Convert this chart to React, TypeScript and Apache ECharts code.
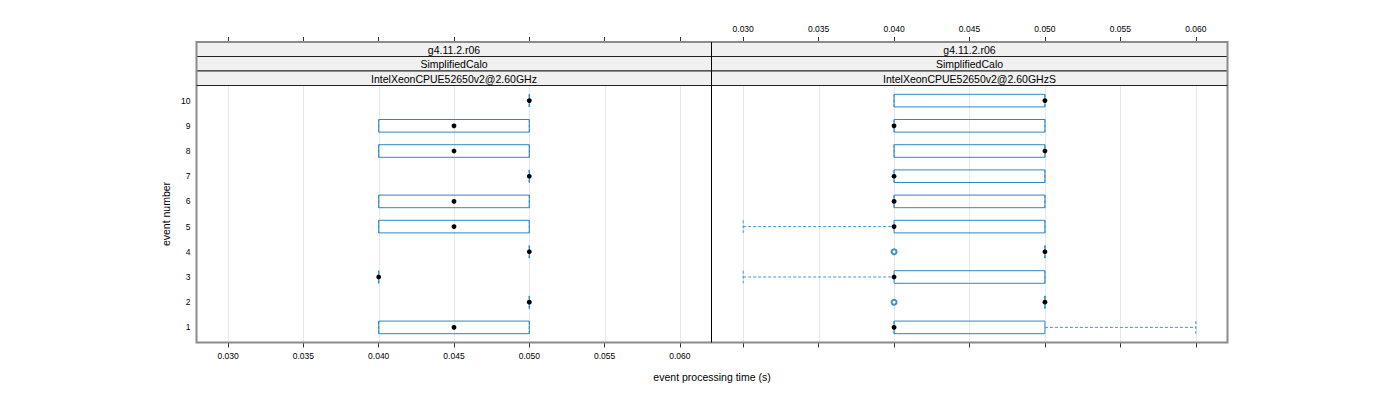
import React, { useEffect, useRef } from "react";
import * as echarts from "echarts";

// ---- data ----
const events = [1, 2, 3, 4, 5, 6, 7, 8, 9, 10];
const xTickValues = [0.03, 0.035, 0.04, 0.045, 0.05, 0.055, 0.06];
const xTickLabels = ["0.030", "0.035", "0.040", "0.045", "0.050", "0.055", "0.060"];
const yTickValues = [1, 2, 3, 4, 5, 6, 7, 8, 9, 10];

const stripLeft = ["g4.11.2.r06", "SimplifiedCalo", "IntelXeonCPUE52650v2@2.60GHz"];
const stripRight = ["g4.11.2.r06", "SimplifiedCalo", "IntelXeonCPUE52650v2@2.60GHzS"];

// left panel: per event 1..10
const leftLo = [0.04, 0.05, 0.04, 0.05, 0.04, 0.04, 0.05, 0.04, 0.04, 0.05];
const leftQ1 = [0.04, 0.05, 0.04, 0.05, 0.04, 0.04, 0.05, 0.04, 0.04, 0.05];
const leftMed = [0.045, 0.05, 0.04, 0.05, 0.045, 0.045, 0.05, 0.045, 0.045, 0.05];
const leftQ3 = [0.05, 0.05, 0.04, 0.05, 0.05, 0.05, 0.05, 0.05, 0.05, 0.05];
const leftHi = [0.05, 0.05, 0.04, 0.05, 0.05, 0.05, 0.05, 0.05, 0.05, 0.05];
const leftOutliers: number[][] = [];

// right panel
const rightLo = [0.04, 0.05, 0.03, 0.05, 0.03, 0.04, 0.04, 0.04, 0.04, 0.04];
const rightQ1 = [0.04, 0.05, 0.04, 0.05, 0.04, 0.04, 0.04, 0.04, 0.04, 0.04];
const rightMed = [0.04, 0.05, 0.04, 0.05, 0.04, 0.04, 0.04, 0.05, 0.04, 0.05];
const rightQ3 = [0.05, 0.05, 0.05, 0.05, 0.05, 0.05, 0.05, 0.05, 0.05, 0.05];
const rightHi = [0.06, 0.05, 0.05, 0.05, 0.05, 0.05, 0.05, 0.05, 0.05, 0.05];
const rightOutliers = [
  [0.04, 2],
  [0.04, 4],
];

const xTitle = "event processing time (s)";
const yTitle = "event number";

// ---- layout / style ----
const FONT = "'Liberation Sans', Arial, Helvetica, sans-serif";
const X_MIN = 0.0279;
const X_MAX = 0.0621;
const Y_MIN = 0.4;
const Y_MAX = 10.6;
const PANEL_TOP = 85.5;
const PANEL_H = 257;
const STRIP_H = 14.5;
const L_LEFT = 196.5;
const L_W = 515;
const R_LEFT = 711.5;
const R_W = 516;
const BOX_COL = "#2b88c6";
const WHISK_COL = "#3f98d2";
const OUT_COL = "#0b78c0";

function buildRows(lo: number[], q1: number[], med: number[], q3: number[], hi: number[]) {
  return events.map((e, i) => [e, lo[i], q1[i], med[i], q3[i], hi[i]]);
}

function renderBox(params: any, api: any) {
  const ev = api.value(0);
  const lo = api.value(1);
  const q1 = api.value(2);
  const med = api.value(3);
  const q3 = api.value(4);
  const hi = api.value(5);
  const yc = api.coord([q1, ev])[1];
  const h = Math.abs(api.size([0, 0.5])[1]);
  const half = h / 2;
  const px = (v: number) => api.coord([v, ev])[0];
  const children: any[] = [];
  const dashStyle = { stroke: WHISK_COL, lineWidth: 1, lineDash: [3, 2], fill: null };
  if (lo < q1) {
    children.push({ type: "line", shape: { x1: px(lo), y1: yc, x2: px(q1), y2: yc }, style: dashStyle });
  }
  if (hi > q3) {
    children.push({ type: "line", shape: { x1: px(q3), y1: yc, x2: px(hi), y2: yc }, style: dashStyle });
  }
  children.push({ type: "line", shape: { x1: px(lo), y1: yc - half, x2: px(lo), y2: yc + half }, style: dashStyle });
  children.push({ type: "line", shape: { x1: px(hi), y1: yc - half, x2: px(hi), y2: yc + half }, style: dashStyle });
  if (q3 > q1) {
    children.push({
      type: "rect",
      shape: { x: px(q1), y: yc - half, width: px(q3) - px(q1), height: h },
      style: { stroke: BOX_COL, lineWidth: 1, fill: null },
    });
  } else {
    children.push({
      type: "line",
      shape: { x1: px(q1), y1: yc - half, x2: px(q1), y2: yc + half },
      style: { stroke: BOX_COL, lineWidth: 1 },
    });
  }
  children.push({
    type: "circle",
    shape: { cx: px(med), cy: yc, r: 2.4 },
    style: { fill: "#000", stroke: null },
  });
  return { type: "group", children };
}

function renderGridLine(params: any, api: any) {
  const x = Math.round(api.coord([api.value(0), Y_MIN])[0]) + 0.5;
  const cs = params.coordSys;
  return {
    type: "line",
    shape: { x1: x, y1: cs.y, x2: x, y2: cs.y + cs.height },
    style: { stroke: "#e8e8e8", lineWidth: 1 },
  };
}

function xAxisDef(gridIndex: number, position: "top" | "bottom", showLabels: boolean) {
  return {
    type: "value",
    gridIndex,
    position,
    offset: position === "top" ? STRIP_H * 3 : 0,
    min: X_MIN,
    max: X_MAX,
    axisLine: { show: false },
    splitLine: { show: false },
    axisTick: {
      show: true,
      customValues: xTickValues,
      length: 5,
      lineStyle: { color: "#333", width: 1 },
    },
    axisLabel: {
      show: showLabels,
      customValues: xTickValues,
      formatter: (v: number) => {
        const i = xTickValues.findIndex((t) => Math.abs(t - v) < 1e-9);
        return i >= 0 ? xTickLabels[i] : "";
      },
      fontFamily: FONT,
      fontSize: 8.5,
      color: "#000",
      margin: 9,
    },
  };
}

function yAxisDef(gridIndex: number, showLabels: boolean) {
  return {
    type: "value",
    gridIndex,
    min: Y_MIN,
    max: Y_MAX,
    axisLine: { show: false },
    splitLine: { show: false },
    axisTick: { show: false },
    axisLabel: {
      show: showLabels,
      customValues: yTickValues,
      fontFamily: FONT,
      fontSize: 8.5,
      color: "#000",
      margin: 6,
    },
  };
}

function strips(left: number, width: number, labels: string[]) {
  const els: any[] = [];
  labels.forEach((lab, i) => {
    const top = PANEL_TOP - STRIP_H * (3 - i);
    els.push({
      type: "rect",
      shape: { x: left, y: top, width, height: STRIP_H },
      style: { fill: "#f0f0f0", stroke: "#222", lineWidth: 1 },
      z: 5,
    });
    els.push({
      type: "text",
      x: left + width / 2,
      y: top + STRIP_H / 2 + 0.5,
      style: {
        text: lab,
        fontFamily: FONT,
        fontSize: 10.5,
        fill: "#000",
        align: "center",
        verticalAlign: "middle",
      },
      z: 6,
    });
  });
  return els;
}

export default function App() {
  const ref = useRef<HTMLDivElement>(null);
  useEffect(() => {
    if (!ref.current) return;
    const chart = echarts.init(ref.current, null, { renderer: "svg" });
    const stripTop = PANEL_TOP - STRIP_H * 3;
    const option: any = {
      animation: false,
      backgroundColor: "#fff",
      grid: [
        { left: L_LEFT, top: PANEL_TOP, width: L_W, height: PANEL_H, containLabel: false },
        { left: R_LEFT, top: PANEL_TOP, width: R_W, height: PANEL_H, containLabel: false },
      ],
      xAxis: [
        xAxisDef(0, "bottom", true),
        xAxisDef(0, "top", false),
        xAxisDef(1, "bottom", false),
        xAxisDef(1, "top", true),
      ],
      yAxis: [yAxisDef(0, true), yAxisDef(1, false)],
      series: [
        {
          type: "custom",
          xAxisIndex: 0,
          yAxisIndex: 0,
          renderItem: renderGridLine,
          data: xTickValues.map((v) => [v, Y_MIN]),
          encode: { x: 0, y: 1 },
          z: 1,
          silent: true,
        },
        {
          type: "custom",
          xAxisIndex: 2,
          yAxisIndex: 1,
          renderItem: renderGridLine,
          data: xTickValues.map((v) => [v, Y_MIN]),
          encode: { x: 0, y: 1 },
          z: 1,
          silent: true,
        },
        {
          type: "custom",
          name: "left",
          xAxisIndex: 0,
          yAxisIndex: 0,
          renderItem: renderBox,
          data: buildRows(leftLo, leftQ1, leftMed, leftQ3, leftHi),
          encode: { x: [1, 2, 3, 4, 5], y: 0 },
          z: 3,
        },
        {
          type: "custom",
          name: "right",
          xAxisIndex: 2,
          yAxisIndex: 1,
          renderItem: renderBox,
          data: buildRows(rightLo, rightQ1, rightMed, rightQ3, rightHi),
          encode: { x: [1, 2, 3, 4, 5], y: 0 },
          z: 3,
        },
        {
          type: "scatter",
          xAxisIndex: 0,
          yAxisIndex: 0,
          data: leftOutliers,
          symbol: "emptyCircle",
          symbolSize: 5,
          itemStyle: { color: OUT_COL, borderColor: OUT_COL, borderWidth: 1.6 },
          z: 4,
        },
        {
          type: "scatter",
          xAxisIndex: 2,
          yAxisIndex: 1,
          data: rightOutliers,
          symbol: "emptyCircle",
          symbolSize: 5,
          itemStyle: { color: OUT_COL, borderColor: OUT_COL, borderWidth: 1.6 },
          z: 4,
        },
      ],
      graphic: [
        ...strips(L_LEFT, R_LEFT - L_LEFT, stripLeft),
        ...strips(R_LEFT, R_W, stripRight),
        {
          type: "rect",
          shape: {
            x: L_LEFT,
            y: stripTop,
            width: R_LEFT + R_W - L_LEFT,
            height: PANEL_TOP + PANEL_H - stripTop,
          },
          style: { fill: null, stroke: "#8c8c8c", lineWidth: 2 },
          z: 7,
        },
        {
          type: "line",
          shape: { x1: L_LEFT, y1: PANEL_TOP, x2: R_LEFT + R_W, y2: PANEL_TOP },
          style: { stroke: "#222", lineWidth: 1 },
          z: 8,
        },
        {
          type: "line",
          shape: { x1: R_LEFT, y1: stripTop, x2: R_LEFT, y2: PANEL_TOP + PANEL_H },
          style: { stroke: "#000", lineWidth: 1 },
          z: 8,
        },
        {
          type: "text",
          x: (L_LEFT + R_LEFT + R_W) / 2,
          y: 377,
          style: {
            text: xTitle,
            fontFamily: FONT,
            fontSize: 10.5,
            fill: "#000",
            align: "center",
            verticalAlign: "middle",
          },
        },
        {
          type: "text",
          x: 166,
          y: PANEL_TOP + PANEL_H / 2,
          rotation: Math.PI / 2,
          style: {
            text: yTitle,
            fontFamily: FONT,
            fontSize: 10.5,
            fill: "#000",
            align: "center",
            verticalAlign: "middle",
          },
        },
      ],
    };
    chart.setOption(option);
    return () => chart.dispose();
  }, []);
  return (
    <div
      ref={ref}
      style={{ position: "absolute", left: 0, top: 0, width: 1400, height: 400 }}
    />
  );
}
